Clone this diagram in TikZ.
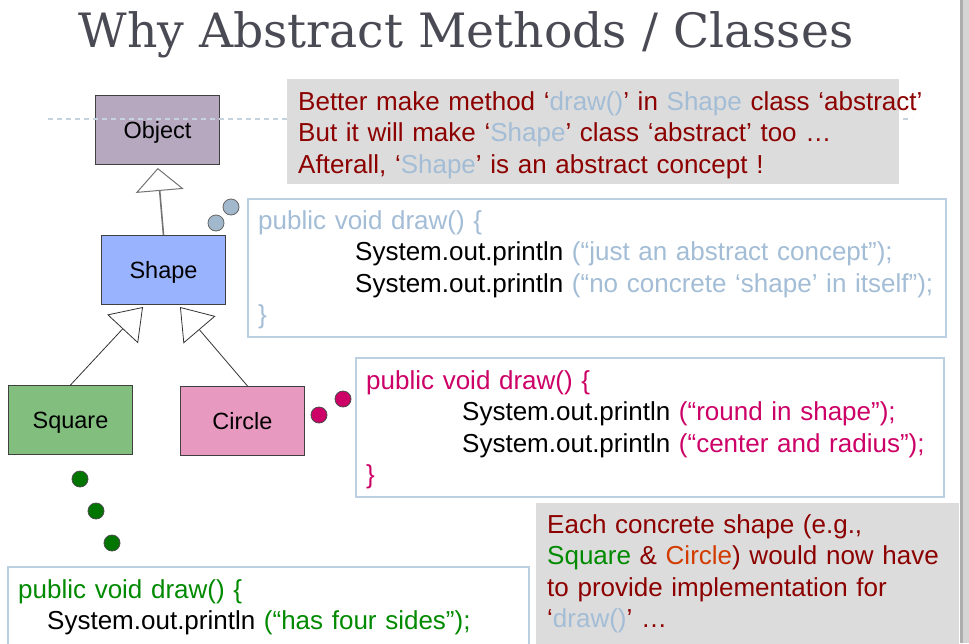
\documentclass[tikz,border=0pt]{standalone}
\usepackage{fontspec}
\setmainfont{Liberation Sans}
\newfontfamily\titlefont{DejaVu Serif}
\usepackage{xcolor}
\usepackage{tikz}
\usetikzlibrary{arrows.meta,positioning}
\definecolor{bg}{HTML}{FFFFFF}
\definecolor{titlegray}{HTML}{4A4A55}
\definecolor{dred}{HTML}{8C0000}
\definecolor{hint}{HTML}{A3BDD6}
\definecolor{magent}{HTML}{CC0066}
\definecolor{grn}{HTML}{008A00}
\definecolor{orng}{HTML}{D23C00}
\definecolor{notebg}{HTML}{DCDCDC}
\definecolor{codeborder}{HTML}{BCD0E2}
\definecolor{objfill}{HTML}{B5A8BF}
\definecolor{shpfill}{HTML}{99B3FF}
\definecolor{sqfill}{HTML}{82BF7E}
\definecolor{circfill}{HTML}{E899C0}
\definecolor{bubgray}{HTML}{A2B8CC}
\definecolor{guide}{HTML}{C5D3DE}
\tikzset{
  cls/.style={draw=black!75, line width=1pt, minimum width=124pt, minimum height=69pt, inner sep=0pt, text depth=0pt, anchor=north west, font=\fontsize{23.5}{28}\selectfont},
  notebox/.style={fill=notebg, draw=none},
  codebox/.style={draw=codeborder, line width=1.2pt, fill=white},
  txt/.style={anchor=base west, align=left, inner sep=0pt, text width=700pt, font=\fontsize{26}{31.5}\selectfont},
  bub/.style={circle, line width=0.8pt, minimum size=16pt, inner sep=0pt},
  inh/.style={draw=black!80, line width=0.8pt, -{Triangle[open, fill=white, length=30pt, width=42pt]}},
}
\begin{document}
\begin{tikzpicture}[x=1pt, y=-1pt]
\useasboundingbox (0,0) rectangle (969,643);
\fill[bg] (0,0) rectangle (969,643);
% right edge
\fill[black!17] (960,0) rectangle (969,643);
\fill[black!32] (960,0) rectangle (963,643);
% title
\node[anchor=base, text=titlegray, font=\titlefont\fontsize{47.3}{52}\selectfont, inner sep=0pt] (title) at (466,47) {Why Abstract Methods / Classes};

% class boxes
\node[cls, fill=objfill] (obj) at (95,95) {Object};
\draw[guide, line width=1.2pt, dash pattern=on 5pt off 4pt] (48,119) -- (912,119);
\node[cls, fill=shpfill] (shp) at (101,235) {Shape};
\node[cls, fill=sqfill] (sq) at (8,385) {Square};
\node[cls, fill=circfill] (circ) at (180,386) {Circle};

% inheritance
\draw[draw=black!55, line width=1.6pt, shorten >=3pt, -{Triangle[open, fill=white, length=23pt, width=48pt, line width=1pt]}] (shp.north) -- (obj.south);
\coordinate (sqtip) at (143,307);
\coordinate (circtip) at (180,307);
\draw[inh] (sq.north) -- (sqtip);
\draw[inh] ([xshift=5pt]circ.north) -- (circtip);

% top note
\fill[notebox] (287,79) rectangle (899,184);
\node[txt, text=dred] (notetop) at (298,110) {Better make method ‘\textcolor{hint}{draw()}’ in \textcolor{hint}{Shape} class ‘abstract’\\
But it will make ‘\textcolor{hint}{Shape}’ class ‘abstract’ too …\\
Afterall, ‘\textcolor{hint}{Shape}’ is an abstract concept !};

% Shape code
\node[bub, fill=bubgray, draw=black!60] (b1) at (216,223) {};
\node[bub, fill=bubgray, draw=black!60] (b2) at (231,207) {};
\draw[codebox] (248,199) rectangle (946,337);
\node[txt, text=hint] (codeshp) at (258,229) {public void draw() \{\\
\hspace*{97pt}\textcolor{black}{System.out.println} (“just an abstract concept”);\\
\hspace*{97pt}\textcolor{black}{System.out.println} (“no concrete ‘shape’ in itself”);\\
\}};

% Circle code
\node[bub, fill=magent, draw=black!70] (m1) at (319,415) {};
\node[bub, fill=magent, draw=black!70] (m2) at (343,399) {};
\draw[codebox] (356,358) rectangle (944,497);
\node[txt, text=magent] (codecirc) at (366,389) {public void draw() \{\\
\hspace*{96pt}\textcolor{black}{System.out.println} (“round in shape”);\\
\hspace*{96pt}\textcolor{black}{System.out.println} (“center and radius”);\\
\}};

% bottom note
\fill[notebox] (536,503) rectangle (959,660);
\node[txt, text=dred] (notebot) at (547,533) {Each concrete shape (e.g.,\\
\textcolor{grn}{Square} \& \textcolor{orng}{Circle}) would now have\\
to provide implementation for\\
‘\textcolor{hint}{draw()}’ …};

% Square code
\node[bub, fill=grn!85!black, draw=black!70] (g1) at (80,479) {};
\node[bub, fill=grn!85!black, draw=black!70] (g2) at (96,511) {};
\node[bub, fill=grn!85!black, draw=black!70] (g3) at (112,543) {};
\draw[codebox] (8,567) rectangle (529,660);
\node[txt, text=grn] (codesq) at (18,598) {public void draw() \{\\
\hspace*{29pt}\textcolor{black}{System.out.println} (“has four sides”);};
\end{tikzpicture}
\end{document}
